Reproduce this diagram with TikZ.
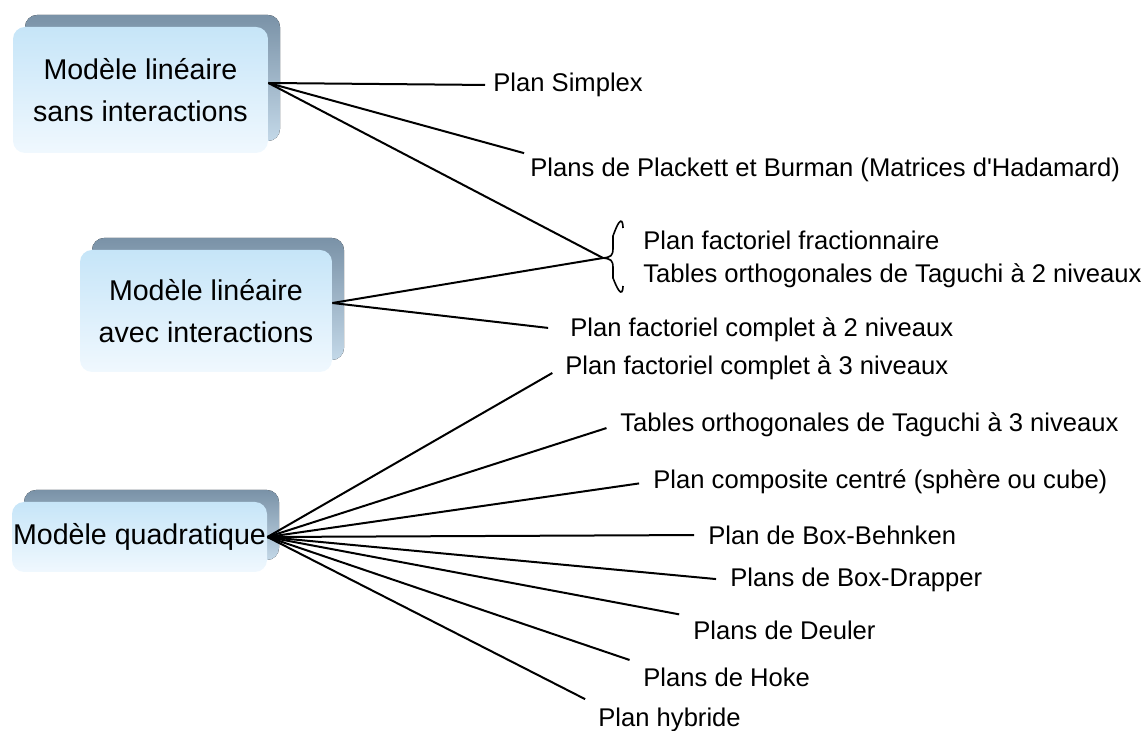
\documentclass[tikz,border=0pt]{standalone}
\usepackage{fontspec}
\setmainfont{Liberation Sans}
\usetikzlibrary{shadows}
\definecolor{facetop}{HTML}{C6E5F8}
\definecolor{facebot}{HTML}{F0F8FE}
\definecolor{rimtop}{HTML}{7A92A7}
\definecolor{rimbot}{HTML}{C3D8E8}

\begin{document}
\begin{tikzpicture}[x=0.5pt, y=-0.5pt, font=\fontsize{12.8}{15}\selectfont,
  model/.style={rounded corners=6pt, top color=facetop, bottom color=facebot,
    inner sep=0pt, align=center, font=\fontsize{14.3}{21}\selectfont,
    copy shadow={shadow xshift=6pt, shadow yshift=6pt, top color=rimtop, bottom color=rimbot, draw=none}},
  plan/.style={anchor=west, inner sep=2pt},
  link/.style={line width=1pt, shorten >=5pt}]
  \useasboundingbox (0,0) rectangle (1146,731);

  % models
  \node[model, minimum width=127.5pt, minimum height=63pt] (box1) at (140.5,90) {Modèle linéaire\\sans interactions};
  \node[model, minimum width=126pt, minimum height=61pt] (box2) at (206,311) {Modèle linéaire\\avec interactions};
  \node[model, minimum width=127.5pt, minimum height=35pt] (box3) at (139.5,537) {Modèle quadratique};

  % plans
  \node[plan] (simplex) at (489,85) {Plan Simplex};
  \node[plan] (plackett) at (526,170) {Plans de Plackett et Burman (Matrices d\textquotesingle Hadamard)};
  \node[plan] (fraction) at (639,240) {Plan factoriel fractionnaire};
  \node[plan] (taguchi2) at (639,276) {Tables orthogonales de Taguchi à 2 niveaux};
  \node[plan] (complet2) at (566,330) {Plan factoriel complet à 2 niveaux};
  \node[plan] (complet3) at (561,368) {Plan factoriel complet à 3 niveaux};
  \node[plan] (taguchi3) at (616,425) {Tables orthogonales de Taguchi à 3 niveaux};
  \node[plan] (composite) at (649,482) {Plan composite centré (sphère ou cube)};
  \node[plan] (behnken) at (704,535) {Plan de Box-Behnken};
  \node[plan] (drapper) at (726,580) {Plans de Box-Drapper};
  \node[plan] (deuler) at (689,630) {Plans de Deuler};
  \node[plan] (hoke) at (639,677) {Plans de Hoke};
  \node[plan] (hybride) at (594,720) {Plan hybride};

  % brace
  \coordinate (tip) at (603,258);
  \draw[line width=0.8pt] (tip) .. controls +(8,-1) and +(0,8) .. +(10,-10) -- +(10,-22)
    .. controls +(10,-28) and +(0,0) .. +(20,-30);
  \draw[line width=0.8pt] (tip) .. controls +(8,1) and +(0,-8) .. +(10,10) -- +(10,20)
    .. controls +(10,26) and +(0,0) .. +(20,28);

  % links
  \draw[link, shorten >=2pt] ([yshift=3.5pt]box1.east) -- (simplex.west);
  \draw[link, shorten >=1pt] ([yshift=3.5pt]box1.east) -- (plackett.north west);
  \draw[link, shorten >=0pt] ([yshift=3.5pt]box1.east) -- (tip);
  \draw[link, shorten >=0pt] ([yshift=4pt]box2.east) -- (tip);
  \draw[link, shorten >=9pt] ([yshift=4pt]box2.east) -- (complet2.west);
  \foreach \p/\a in {complet3/west, taguchi3/west, composite/west, behnken/west,
      drapper/west, deuler/north west, hoke/north west, hybride/north west}
    \draw[link] (box3.east) -- (\p.\a);
\end{tikzpicture}
\end{document}
